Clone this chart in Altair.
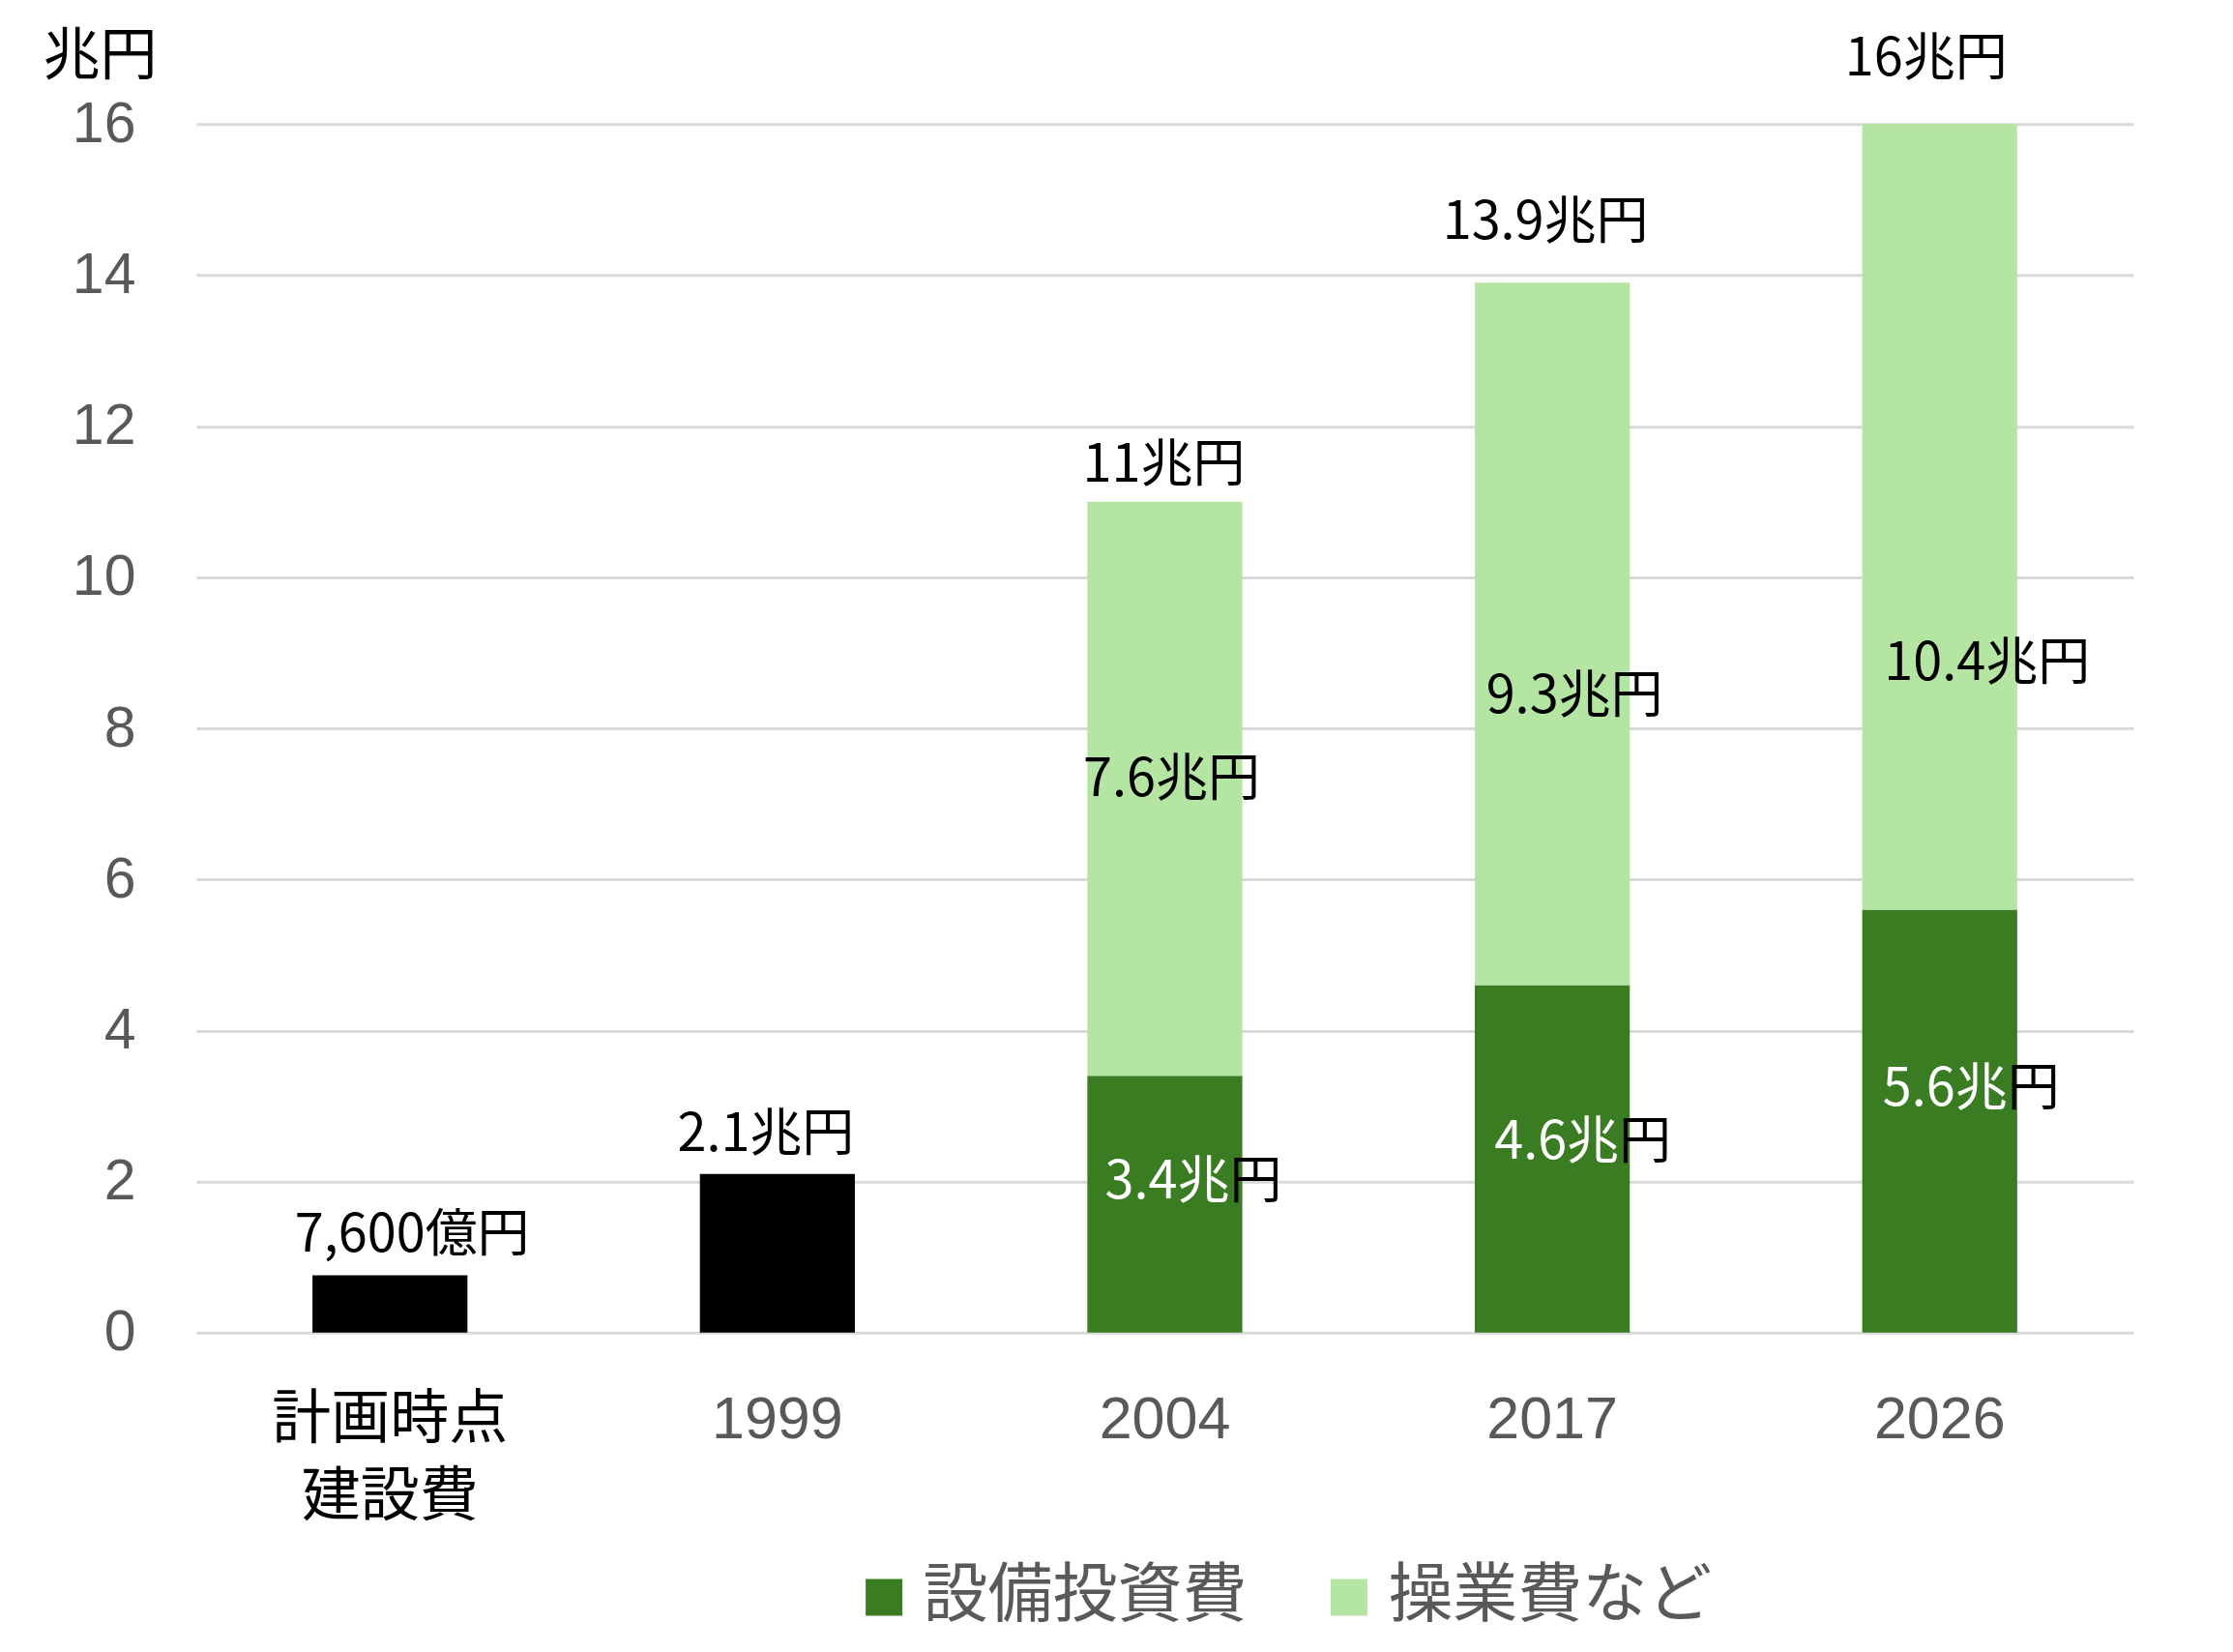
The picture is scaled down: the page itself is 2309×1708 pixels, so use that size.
import altair as alt
import pandas as pd

# ---------------- data ----------------
categories = ["計画時点建設費", "1999", "2004", "2017", "2026"]
construction = [0.76, 2.1, 0.0, 0.0, 0.0]   # 建設費 (black)
capex = [0.0, 0.0, 3.4, 4.6, 5.6]           # 設備投資費
opex = [0.0, 0.0, 7.6, 9.3, 10.4]           # 操業費など
series_names = ["建設費", "設備投資費", "操業費など"]
y_ticks = [0, 2, 4, 6, 8, 10, 12, 14, 16]

# label anchors (value units, text baseline) and pixel offsets
total_label_pos = [1.07, 2.40, 11.27, 14.48, 16.65]
total_label_dx = [23, -12, -1, -7, -14]
opex_label_pos = [7.11, 8.20, 8.64]
opex_label_dx = [7, 23, 49]
capex_label_pos = [1.78, 2.30, 3.00]
capex_label_right = [121, 123, 124]

# ---------------- styles ----------------
series_colors = ["#000000", "#3A7C22", "#B4E5A2"]
JP = "Noto Sans CJK JP"
NUM = "Liberation Sans"
GRAY = "#595959"
LABEL_SIZE = 54

rows = []
for i, c in enumerate(categories):
    for k, vals in enumerate([construction, capex, opex]):
        if vals[i] > 0:
            rows.append({"cat": c, "series": series_names[k], "value": vals[i], "ord": k})
bar_df = pd.DataFrame(rows)

totals = [round(a + b + c, 2) for a, b, c in zip(construction, capex, opex)]


def fmt(v):
    if v < 1:
        return f"{int(round(v * 10000)):,}億円"
    return f"{v:g}兆円"


yscale = alt.Scale(domain=[0, 16], nice=False, zero=True)
xscale = alt.Scale(domain=categories, paddingInner=0.6, paddingOuter=0.3)

first = categories[0]
xaxis = alt.Axis(
    title=None, labelAngle=0, domain=False, ticks=False, grid=False,
    labelPadding=61, labelBaseline="top", labelLineHeight=80,
    labelFontSize=61, labelOverlap=False, labelLimit=0,
    labelFont={"condition": {"test": f"datum.value == '{first}'", "value": JP}, "value": NUM},
    labelColor={"condition": {"test": f"datum.value == '{first}'", "value": "#000000"}, "value": GRAY},
    labelExpr=f"datum.value == '{first}' ? ['計画時点', '建設費'] : datum.label",
)
yaxis = alt.Axis(
    values=y_ticks, grid=True, gridColor="#D9D9D9", gridWidth=3,
    domain=False, ticks=False, labelFont=NUM, labelFontSize=59,
    labelColor=GRAY, labelPadding=63,
    title="兆円", titleAngle=0, titleX=-100, titleY=-52, titleAlign="center",
    titleBaseline="alphabetic", titleFont=JP, titleFontSize=59,
    titleFontWeight="normal", titleColor="#000000",
)

bars = alt.Chart(bar_df).mark_bar().encode(
    x=alt.X("cat:N", sort=categories, scale=xscale, axis=xaxis),
    y=alt.Y("value:Q", stack="zero", scale=yscale, axis=yaxis),
    color=alt.Color(
        "series:N",
        scale=alt.Scale(domain=series_names, range=series_colors),
        legend=alt.Legend(
            values=series_names[1:], orient="none", legendX=678, legendY=1490,
            direction="horizontal", title=None, symbolType="square",
            symbolSize=1444, symbolStrokeWidth=0, symbolOpacity=1,
            labelFont=JP, labelFontSize=67, labelColor=GRAY, labelOffset=7,
            columnPadding=72, labelLimit=1000,
        ),
    ),
    order=alt.Order("ord:Q"),
)


def text_layer(cat, pos, text, color, align, dx):
    df = pd.DataFrame([{"cat": cat, "value": pos, "text": text}])
    return alt.Chart(df).mark_text(
        align=align, baseline="alphabetic", dx=dx, font=JP,
        fontSize=LABEL_SIZE, color=color,
    ).encode(
        x=alt.X("cat:N", sort=categories, scale=xscale, axis=xaxis),
        y=alt.Y("value:Q", scale=yscale, axis=yaxis),
        text="text:N",
    )


layers = [bars]
for i, c in enumerate(categories):
    layers.append(text_layer(c, total_label_pos[i], fmt(totals[i]), "#000000", "center", total_label_dx[i]))

green_cats = [c for i, c in enumerate(categories) if capex[i] > 0]
green_capex = [v for v in capex if v > 0]
green_opex = [v for v in opex if v > 0]
for j, c in enumerate(green_cats):
    layers.append(text_layer(c, opex_label_pos[j], fmt(green_opex[j]), "#000000", "center", opex_label_dx[j]))
    # part of the label inside the dark bar is white, the part outside is black
    layers.append(text_layer(c, capex_label_pos[j], "円", "#000000", "right", capex_label_right[j]))
    layers.append(text_layer(c, capex_label_pos[j], f"{green_capex[j]:g}兆", "#FFFFFF", "right",
                             capex_label_right[j] - LABEL_SIZE))

chart = alt.layer(*layers).properties(
    width=2004, height=1250,
    autosize=alt.AutoSizeParams(type="none"),
    padding={"left": 195, "top": 120, "right": 95, "bottom": 322},
    background="#FFFFFF",
).configure_view(stroke=None)

chart.save("out.html", embed_options={"renderer": "svg", "actions": False})
